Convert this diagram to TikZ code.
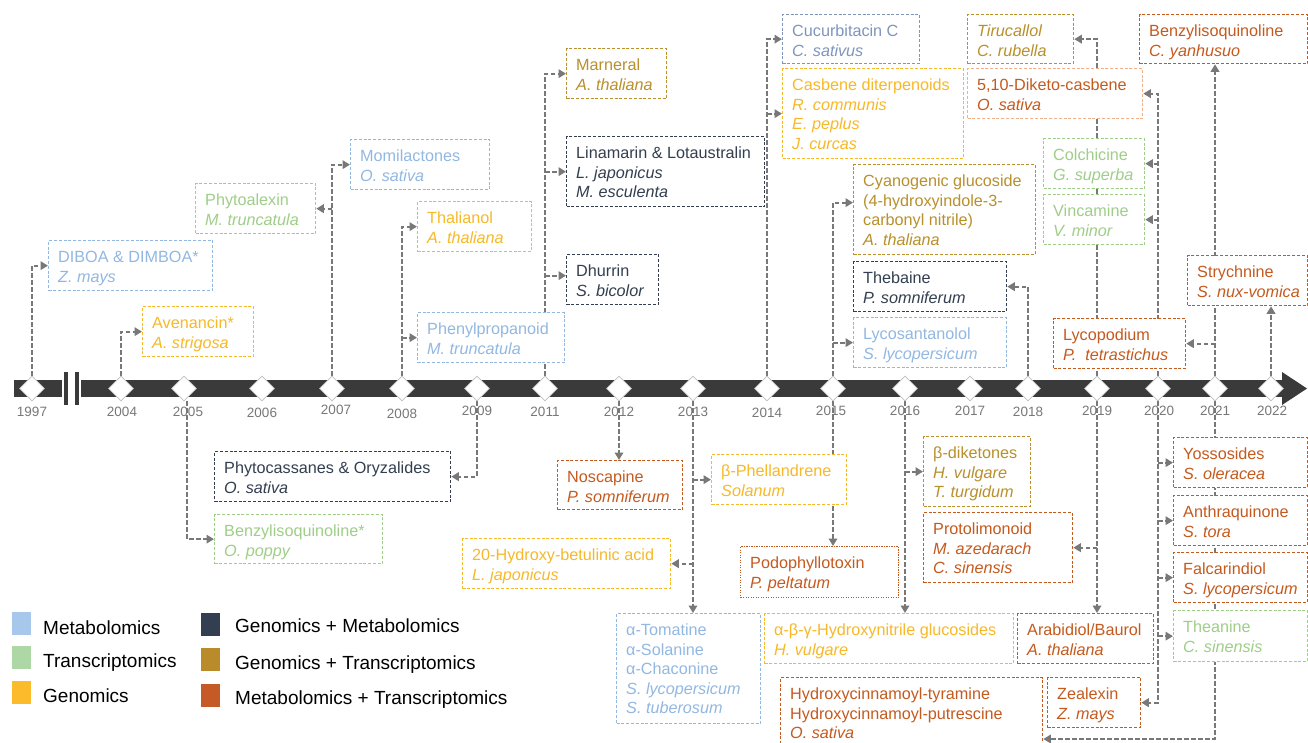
\documentclass[tikz,border=0pt]{standalone}
\usepackage{fontspec}
\setmainfont{Liberation Sans}
\usetikzlibrary{shapes.geometric,arrows.meta,calc}
\pgfdeclarelayer{bg}
\pgfsetlayers{bg,main}
\definecolor{metaC}{HTML}{92B8E2}
\definecolor{transC}{HTML}{9FCE88}
\definecolor{genC}{HTML}{F7B928}
\definecolor{gmC}{HTML}{333F50}
\definecolor{gtC}{HTML}{B8902C}
\definecolor{mtC}{HTML}{C55A1E}
\definecolor{cucC}{HTML}{7F95BD}
\definecolor{dikC}{HTML}{F2B08A}
\definecolor{conC}{HTML}{787878}
\definecolor{barC}{HTML}{3A3A3A}
\definecolor{lgMeta}{HTML}{A7C8EA}
\definecolor{lgTrans}{HTML}{AED7A6}
\definecolor{lgGen}{HTML}{FCBB2A}
\definecolor{lgGM}{HTML}{333F50}
\definecolor{lgGT}{HTML}{B98B2A}
\definecolor{lgMT}{HTML}{C55A26}
\tikzset{
  bx/.style={draw=#1, fill=white, line width=1.3pt, dash pattern=on 3pt off 1.8pt, inner sep=0pt, anchor=north west},
  bxt/.style={text=#1, anchor=north west, align=left, inner sep=0pt, font=\fontsize{16.2}{19.5}\selectfont},
  con/.style={draw=conC, line width=1.9pt, dash pattern=on 4.5pt off 2.5pt},
  arr/.style={con, -{Triangle[length=7.5pt,width=8.5pt]}},
  dia/.style={diamond, draw=gray!50, fill=white, line width=0.6pt, minimum size=25pt, inner sep=0pt},
  yr/.style={text=conC, font=\fontsize{13.5}{14}\selectfont, inner sep=0pt},
  sq/.style={minimum width=19pt, minimum height=23pt, inner sep=0pt, anchor=north west},
  lg/.style={font=\fontsize{19}{21}\selectfont, anchor=base west, inner sep=0pt, text=black},
}
\newcommand\mkbox[8]{%
  \pgfmathsetmacro\mkbw{#6-#4}%
  \pgfmathsetmacro\mkbh{#7-#5}%
  \node[bx=#3,minimum width=\mkbw pt,minimum height=\mkbh pt,#1] (#2) at (#4,#5) {};
  \node[bxt=#3] (#2t) at ($(#2.north west)+(10,10.5)$) {\rule{0pt}{12pt}#8};}
\begin{document}
\begin{tikzpicture}[x=1pt,y=-1pt]
\useasboundingbox (0,0) rectangle (1308,742);
% timeline
\fill[barC] (14,380) rectangle (62,397);
\fill[barC] (63.5,372) rectangle (67.5,405);
\fill[barC] (74.5,372) rectangle (78.5,405);
\fill[barC] (81,380) rectangle (1284,397);
\fill[barC] (1282,372) -- (1307,388.5) -- (1282,405) -- cycle;
\foreach \yy/\xx in {1997/32,2004/121,2005/184,2006/262,2007/332,2008/402,2009/477,2011/545,2012/619,2013/693,2014/767,2015/833,2016/905,2017/970,2018/1028,2019/1097,2020/1158,2021/1215,2022/1271}
  \node[dia] (d\yy) at (\xx,388.5) {};
\foreach \yy/\xx/\ly in {1997/32/412,2004/122/412,2005/188/412,2006/262/413,2007/336/410,2008/402/414,2009/477/411,2011/545/412,2012/619/412,2013/693/412,2014/767/413,2015/831/411,2016/905/411,2017/970/411,2018/1028/412,2019/1097/411,2020/1159/411,2021/1215/411,2022/1272/411}
  \node[yr] (t\yy) at (\xx,\ly) {\yy};
% boxes above
\mkbox{}{diboa}{metaC}{48}{240}{212}{290}{DIBOA \& DIMBOA*\\\textit{Z. mays}}
\mkbox{}{aven}{genC}{142}{306}{253}{356}{Avenancin*\\\textit{A. strigosa}}
\mkbox{}{phyto}{transC}{195}{183}{315}{233}{Phytoalexin\\\textit{M. truncatula}}
\mkbox{}{momi}{metaC}{350}{139}{489}{189}{Momilactones\\\textit{O. sativa}}
\mkbox{}{thal}{genC}{417}{201}{531}{251}{Thalianol\\\textit{A. thaliana}}
\mkbox{}{phen}{metaC}{417}{312}{564}{362}{Phenylpropanoid\\\textit{M. truncatula}}
\mkbox{}{marn}{gtC}{566}{48}{666}{98}{Marneral\\\textit{A. thaliana}}
\mkbox{}{lina}{gmC}{566}{136}{764}{206}{Linamarin \& Lotaustralin\\\textit{L. japonicus}\\\textit{M. esculenta}}
\mkbox{}{dhur}{gmC}{566}{254}{658}{304}{Dhurrin\\\textit{S. bicolor}}
\mkbox{}{cucu}{cucC}{782}{14}{919}{63}{Cucurbitacin C\\\textit{C. sativus}}
\mkbox{}{casb}{genC}{782}{68}{963}{158}{Casbene diterpenoids\\\textit{R. communis}\\\textit{E. peplus}\\\textit{J. curcas}}
\mkbox{}{cyan}{gtC}{853}{164}{1035}{254}{Cyanogenic glucoside\\(4-hydroxyindole-3-\\carbonyl nitrile)\\\textit{A. thaliana}}
\mkbox{}{theb}{gmC}{853}{261}{1006}{311}{Thebaine\\\textit{P. somniferum}}
\mkbox{}{lyco}{metaC}{853}{317}{1006}{367}{Lycosantanolol\\\textit{S. lycopersicum}}
\mkbox{}{tiru}{gtC}{967}{14}{1073}{63}{\textit{Tirucallol}\\\textit{C. rubella}}
\mkbox{draw=dikC}{dike}{mtC}{967}{68}{1142}{118}{5,10-Diketo-casbene\\\textit{O. sativa}}
\mkbox{}{colc}{transC}{1043}{138}{1144}{188}{Colchicine\\\textit{G. superba}}
\mkbox{}{vinc}{transC}{1043}{194}{1144}{244}{Vincamine\\\textit{V. minor}}
\mkbox{}{bzcy}{mtC}{1139}{14}{1307}{63}{Benzylisoquinoline\\\textit{C. yanhusuo}}
\mkbox{}{stry}{mtC}{1187}{255}{1307}{305}{Strychnine\\\textit{S. nux-vomica}}
\mkbox{}{lyc2}{mtC}{1053}{318}{1185}{368}{Lycopodium\\\textit{P.~\ tetrastichus}}
% boxes below
\mkbox{}{phcas}{gmC}{214}{451}{450}{501}{Phytocassanes \& Oryzalides\\\textit{O. sativa}}
\mkbox{}{bzop}{transC}{214}{514}{382}{563}{Benzylisoquinoline*\\\textit{O. poppy}}
\mkbox{}{hbet}{genC}{462}{538}{670}{588}{20-Hydroxy-betulinic acid\\\textit{L. japonicus}}
\mkbox{}{nosc}{mtC}{557}{460}{682}{509}{Noscapine\\\textit{P. somniferum}}
\mkbox{}{phel}{genC}{711}{454}{846}{504}{β-Phellandrene\\\textit{Solanum}}
\mkbox{dash pattern=on 1.2pt off 1.3pt}{podo}{mtC}{740}{546}{898}{597}{Podophyllotoxin\\\textit{P. peltatum}}
\mkbox{}{toma}{metaC}{616}{613}{760}{723}{α-Tomatine\\α-Solanine\\α-Chaconine\\\textit{S. lycopersicum}\\\textit{S. tuberosum}}
\mkbox{}{hnit}{genC}{764}{613}{1013}{663}{α-β-γ-Hydroxynitrile glucosides\\\textit{H. vulgare}}
\mkbox{}{hcin}{mtC}{780}{677}{1042}{747}{Hydroxycinnamoyl-tyramine\\Hydroxycinnamoyl-putrescine\\\textit{O. sativa}}
\mkbox{}{bdik}{gtC}{923}{436}{1030}{506}{β-diketones\\\textit{H. vulgare}\\\textit{T. turgidum}}
\mkbox{}{prot}{mtC}{923}{512}{1072}{582}{Protolimonoid\\\textit{M. azedarach}\\\textit{C. sinensis}}
\mkbox{}{arab}{mtC}{1017}{613}{1153}{663}{Arabidiol/Baurol\\\textit{A. thaliana}}
\mkbox{}{zeal}{mtC}{1047}{677}{1140}{727}{Zealexin\\\textit{Z. mays}}
\mkbox{}{yoss}{mtC}{1173}{437}{1307}{487}{Yossosides\\\textit{S. oleracea}}
\mkbox{}{anth}{mtC}{1173}{495}{1307}{545}{Anthraquinone\\\textit{S. tora}}
\mkbox{}{falc}{mtC}{1173}{552}{1307}{602}{Falcarindiol\\\textit{S. lycopersicum}}
\mkbox{}{thea}{transC}{1173}{610}{1307}{661}{Theanine\\\textit{C. sinensis}}
% legend
\node[sq, fill=lgMeta] (sq1) at (12,612) {};
\node[lg] (lt1) at (43,634) {Metabolomics};
\node[sq, fill=lgTrans] (sq2) at (12,646) {};
\node[lg] (lt2) at (43,667) {Transcriptomics};
\node[sq, fill=lgGen] (sq3) at (12,681) {};
\node[lg] (lt3) at (43,702) {Genomics};
\node[sq, fill=lgGM] (sq4) at (201,613) {};
\node[lg] (lt4) at (235,632) {Genomics + Metabolomics};
\node[sq, fill=lgGT] (sq5) at (201,648) {};
\node[lg] (lt5) at (235,669) {Genomics + Transcriptomics};
\node[sq, fill=lgMT] (sq6) at (201,684) {};
\node[lg] (lt6) at (235,704) {Metabolomics + Transcriptomics};
\coordinate (hcinin) at ($(hcin.north east)+(0,62)$);
\coordinate (dhurin) at ([yshift=4pt]dhur.west);
\coordinate (cyanin) at ([yshift=7pt]cyan.west);
% connectors
\begin{pgfonlayer}{bg}
\fill[white] (0,0) rectangle (1308,742);
\draw[arr] (d1997.north) |- (diboa.west);
\draw[arr] (d2004.north) |- (aven.west);
\draw[arr] ([xshift=3pt]d2005.south) |- (bzop.west);
\draw[arr] (d2007.north) |- (momi.west);
\draw[arr] (d2007 |- phyto.east) -- (phyto.east);
\draw[arr] (d2008.north) |- (thal.west);
\draw[arr] (d2008 |- phen.west) -- (phen.west);
\draw[arr] (d2009.south) |- (phcas.east);
\draw[arr] (d2011.north) |- (marn.west);
\draw[arr] (d2011 |- lina.west) -- (lina.west);
\draw[arr] (d2011 |- dhurin) -- (dhurin);
\draw[arr] (d2012.south) -- (d2012 |- nosc.north);
\draw[arr] (d2013.south) -- (d2013 |- toma.north);
\draw[arr] (d2013 |- phel.west) -- (phel.west);
\draw[arr] (d2013 |- hbet.east) -- (hbet.east);
\draw[arr] (d2014.north) |- (cucu.west);
\draw[arr] (d2014 |- casb.west) -- (casb.west);
\draw[arr] (d2015.north) |- (cyanin);
\draw[arr] (d2015 |- lyco.west) -- (lyco.west);
\draw[arr] (d2015.south) -- (d2015 |- podo.north);
\draw[arr] (d2016.south) -- (d2016 |- hnit.north);
\draw[arr] (d2016 |- bdik.west) -- (bdik.west);
\draw[arr] (d2018.north) |- (theb.east);
\draw[arr] (d2019.north) |- (tiru.east);
\draw[arr] (d2019.south) -- (d2019 |- arab.north);
\draw[arr] (d2019 |- prot.east) -- (prot.east);
\draw[arr] (d2020.north) |- (dike.east);
\draw[arr] (d2020 |- colc.east) -- (colc.east);
\draw[arr] (d2020 |- vinc.east) -- (vinc.east);
\draw[arr] (d2020.south) |- (zeal.east);
\draw[arr] (d2020 |- yoss.west) -- (yoss.west);
\draw[arr] (d2020 |- anth.west) -- (anth.west);
\draw[arr] (d2020 |- falc.west) -- (falc.west);
\draw[arr] (d2020 |- thea.west) -- (thea.west);
\draw[arr] (d2021.north) -- (d2021 |- bzcy.south);
\draw[arr] (d2021 |- lyc2.east) -- (lyc2.east);
\draw[arr] (d2021.south) |- (hcinin);
\draw[arr] (d2022.north) -- (d2022 |- stry.south);
\end{pgfonlayer}
\end{tikzpicture}
\end{document}
